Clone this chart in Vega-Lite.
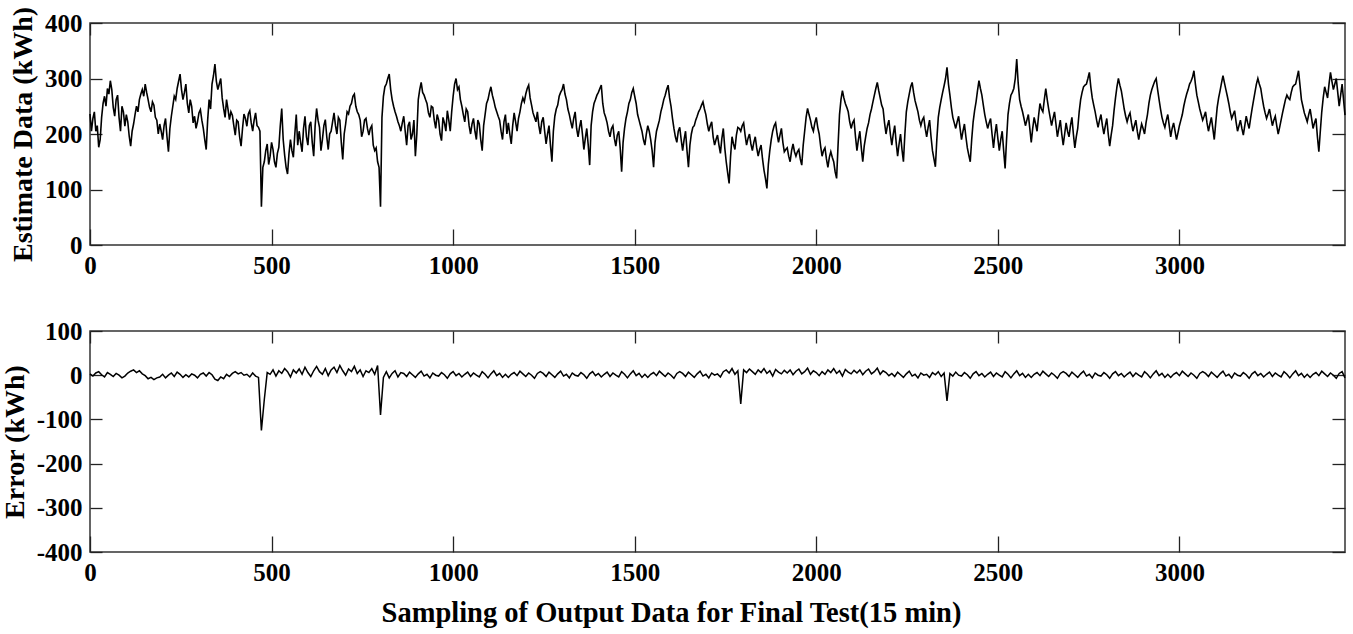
{
"$schema": "https://vega.github.io/schema/vega-lite/v6.json",
"background": "white",
"padding": {"left": 0, "top": 5, "right": 7, "bottom": 5},
"spacing": 39,
"config": {
  "font": "Liberation Serif",
  "view": {"stroke": "#333333", "strokeWidth": 1.5},
  "axis": {"grid": false, "domain": false, "labelFont": "Liberation Serif", "labelFontWeight": "bold", "labelFontSize": 25, "labelColor": "black", "titleFont": "Liberation Serif", "titleFontWeight": "bold", "titleFontSize": 28, "titleColor": "black", "tickColor": "#222222", "tickWidth": 1.3, "labelOverlap": false, "labelFlush": false, "labelExpr": "datum.value"},
  "axisBottom": {"tickSize": -16, "labelPadding": 24},
  "axisLeft": {"tickSize": -12, "labelPadding": 20, "titlePadding": 7},
  "axisTop": {"tickSize": -12},
  "axisRight": {"tickSize": -13}
},
"data": {"values": [
{"t":0,"est":236,"err":3},{"t":8,"est":228,"err":-2},{"t":16,"est":205,"err":5},{"t":24,"est":176,"err":8},{"t":32,"est":230,"err":1},{"t":40,"est":268,"err":-4},{"t":48,"est":282,"err":6},{"t":56,"est":296,"err":2},{"t":64,"est":248,"err":-3},{"t":72,"est":262,"err":4},{"t":80,"est":230,"err":0},{"t":88,"est":250,"err":-6},
{"t":96,"est":214,"err":-2},{"t":104,"est":222,"err":5},{"t":112,"est":178,"err":9},{"t":120,"est":218,"err":12},{"t":128,"est":250,"err":6},{"t":136,"est":262,"err":10},{"t":144,"est":280,"err":3},{"t":152,"est":290,"err":-1},{"t":160,"est":262,"err":-8},{"t":168,"est":240,"err":-5},{"t":176,"est":252,"err":-10},{"t":184,"est":225,"err":-6},
{"t":192,"est":218,"err":-4},{"t":200,"est":190,"err":2},{"t":208,"est":228,"err":-6},{"t":216,"est":168,"err":0},{"t":224,"est":232,"err":5},{"t":232,"est":268,"err":-3},{"t":240,"est":282,"err":7},{"t":248,"est":308,"err":2},{"t":256,"est":262,"err":-5},{"t":264,"est":290,"err":1},{"t":272,"est":238,"err":-4},{"t":280,"est":250,"err":3},
{"t":288,"est":232,"err":0},{"t":296,"est":222,"err":-6},{"t":304,"est":244,"err":2},{"t":312,"est":210,"err":5},{"t":320,"est":172,"err":-2},{"t":328,"est":262,"err":6},{"t":336,"est":290,"err":1},{"t":344,"est":326,"err":-9},{"t":352,"est":280,"err":-12},{"t":360,"est":300,"err":-4},{"t":368,"est":246,"err":-8},{"t":376,"est":262,"err":2},
{"t":384,"est":226,"err":-3},{"t":392,"est":234,"err":4},{"t":400,"est":198,"err":8},{"t":408,"est":222,"err":3},{"t":416,"est":178,"err":6},{"t":424,"est":236,"err":0},{"t":432,"est":214,"err":2},{"t":440,"est":242,"err":-4},{"t":448,"est":205,"err":5},{"t":456,"est":238,"err":-2},{"t":464,"est":212,"err":-5},{"t":472,"est":69,"err":-125},
{"t":480,"est":150,"err":-55},{"t":488,"est":182,"err":6},{"t":496,"est":160,"err":2},{"t":504,"est":172,"err":12},{"t":512,"est":140,"err":-2},{"t":520,"est":176,"err":10},{"t":528,"est":246,"err":4},{"t":536,"est":162,"err":15},{"t":544,"est":128,"err":8},{"t":552,"est":190,"err":-4},{"t":560,"est":158,"err":12},{"t":568,"est":235,"err":5},
{"t":576,"est":205,"err":14},{"t":584,"est":168,"err":2},{"t":592,"est":232,"err":18},{"t":600,"est":180,"err":6},{"t":608,"est":222,"err":-3},{"t":616,"est":160,"err":10},{"t":624,"est":246,"err":20},{"t":632,"est":212,"err":8},{"t":640,"est":190,"err":2},{"t":648,"est":226,"err":15},{"t":656,"est":172,"err":-1},{"t":664,"est":205,"err":12},
{"t":672,"est":238,"err":18},{"t":680,"est":200,"err":6},{"t":688,"est":225,"err":22},{"t":696,"est":154,"err":10},{"t":704,"est":218,"err":0},{"t":712,"est":236,"err":14},{"t":720,"est":255,"err":8},{"t":728,"est":272,"err":20},{"t":736,"est":240,"err":4},{"t":744,"est":225,"err":12},{"t":752,"est":205,"err":-3},{"t":760,"est":228,"err":10},
{"t":768,"est":198,"err":6},{"t":776,"est":215,"err":15},{"t":784,"est":170,"err":2},{"t":792,"est":150,"err":22},{"t":800,"est":69,"err":-90},{"t":808,"est":268,"err":-5},{"t":816,"est":290,"err":8},{"t":824,"est":308,"err":-6},{"t":832,"est":262,"err":4},{"t":840,"est":240,"err":10},{"t":848,"est":222,"err":-4},{"t":856,"est":205,"err":6},
{"t":864,"est":232,"err":4},{"t":872,"est":180,"err":-3},{"t":880,"est":222,"err":7},{"t":888,"est":200,"err":1},{"t":896,"est":160,"err":-5},{"t":904,"est":262,"err":3},{"t":912,"est":293,"err":9},{"t":920,"est":270,"err":-2},{"t":928,"est":255,"err":2},{"t":936,"est":230,"err":-6},{"t":944,"est":248,"err":5},{"t":952,"est":210,"err":0},
{"t":960,"est":225,"err":-2},{"t":968,"est":188,"err":6},{"t":976,"est":220,"err":1},{"t":984,"est":242,"err":-7},{"t":992,"est":205,"err":3},{"t":1000,"est":268,"err":8},{"t":1008,"est":300,"err":-1},{"t":1016,"est":285,"err":4},{"t":1024,"est":250,"err":-4},{"t":1032,"est":222,"err":2},{"t":1040,"est":240,"err":7},{"t":1048,"est":200,"err":-3},
{"t":1056,"est":228,"err":5},{"t":1064,"est":190,"err":0},{"t":1072,"est":218,"err":-4},{"t":1080,"est":170,"err":8},{"t":1088,"est":235,"err":2},{"t":1096,"est":262,"err":-6},{"t":1104,"est":285,"err":3},{"t":1112,"est":260,"err":10},{"t":1120,"est":240,"err":-1},{"t":1128,"est":225,"err":4},{"t":1136,"est":190,"err":-5},{"t":1144,"est":235,"err":2},
{"t":1152,"est":220,"err":-5},{"t":1160,"est":182,"err":2},{"t":1168,"est":238,"err":6},{"t":1176,"est":205,"err":-1},{"t":1184,"est":240,"err":9},{"t":1192,"est":265,"err":3},{"t":1200,"est":272,"err":-3},{"t":1208,"est":288,"err":5},{"t":1216,"est":252,"err":0},{"t":1224,"est":230,"err":-7},{"t":1232,"est":240,"err":4},{"t":1240,"est":200,"err":8},
{"t":1248,"est":230,"err":4},{"t":1256,"est":182,"err":-3},{"t":1264,"est":215,"err":7},{"t":1272,"est":150,"err":1},{"t":1280,"est":232,"err":-5},{"t":1288,"est":252,"err":3},{"t":1296,"est":275,"err":9},{"t":1304,"est":290,"err":-2},{"t":1312,"est":262,"err":2},{"t":1320,"est":235,"err":-6},{"t":1328,"est":210,"err":5},{"t":1336,"est":240,"err":0},
{"t":1344,"est":195,"err":-2},{"t":1352,"est":225,"err":6},{"t":1360,"est":172,"err":1},{"t":1368,"est":210,"err":-7},{"t":1376,"est":144,"err":3},{"t":1384,"est":240,"err":8},{"t":1392,"est":262,"err":-1},{"t":1400,"est":275,"err":4},{"t":1408,"est":288,"err":-4},{"t":1416,"est":238,"err":2},{"t":1424,"est":220,"err":7},{"t":1432,"est":195,"err":-3},
{"t":1440,"est":215,"err":5},{"t":1448,"est":178,"err":0},{"t":1456,"est":205,"err":-4},{"t":1464,"est":132,"err":8},{"t":1472,"est":210,"err":2},{"t":1480,"est":240,"err":-6},{"t":1488,"est":262,"err":3},{"t":1496,"est":282,"err":10},{"t":1504,"est":255,"err":-1},{"t":1512,"est":225,"err":4},{"t":1520,"est":205,"err":-5},{"t":1528,"est":180,"err":2},
{"t":1536,"est":215,"err":-5},{"t":1544,"est":190,"err":2},{"t":1552,"est":140,"err":6},{"t":1560,"est":205,"err":-1},{"t":1568,"est":225,"err":9},{"t":1576,"est":250,"err":3},{"t":1584,"est":270,"err":-3},{"t":1592,"est":288,"err":5},{"t":1600,"est":250,"err":0},{"t":1608,"est":210,"err":-7},{"t":1616,"est":185,"err":4},{"t":1624,"est":212,"err":8},
{"t":1632,"est":170,"err":4},{"t":1640,"est":205,"err":-3},{"t":1648,"est":140,"err":7},{"t":1656,"est":200,"err":1},{"t":1664,"est":215,"err":-5},{"t":1672,"est":232,"err":3},{"t":1680,"est":245,"err":9},{"t":1688,"est":258,"err":-2},{"t":1696,"est":235,"err":2},{"t":1704,"est":205,"err":-6},{"t":1712,"est":222,"err":5},{"t":1720,"est":180,"err":0},
{"t":1728,"est":198,"err":3},{"t":1736,"est":165,"err":-4},{"t":1744,"est":210,"err":8},{"t":1752,"est":150,"err":12},{"t":1760,"est":111,"err":5},{"t":1768,"est":195,"err":15},{"t":1776,"est":172,"err":2},{"t":1784,"est":212,"err":10},{"t":1792,"est":205,"err":-65},{"t":1800,"est":220,"err":12},{"t":1808,"est":180,"err":6},{"t":1816,"est":200,"err":14},
{"t":1824,"est":170,"err":8},{"t":1832,"est":195,"err":2},{"t":1840,"est":160,"err":12},{"t":1848,"est":180,"err":6},{"t":1856,"est":135,"err":15},{"t":1864,"est":102,"err":4},{"t":1872,"est":170,"err":10},{"t":1880,"est":205,"err":-2},{"t":1888,"est":220,"err":13},{"t":1896,"est":185,"err":7},{"t":1904,"est":210,"err":3},{"t":1912,"est":168,"err":11},
{"t":1920,"est":175,"err":5},{"t":1928,"est":150,"err":12},{"t":1936,"est":182,"err":1},{"t":1944,"est":160,"err":9},{"t":1952,"est":172,"err":14},{"t":1960,"est":144,"err":3},{"t":1968,"est":205,"err":8},{"t":1976,"est":246,"err":16},{"t":1984,"est":225,"err":2},{"t":1992,"est":205,"err":10},{"t":2000,"est":230,"err":6},{"t":2008,"est":200,"err":-1},
{"t":2016,"est":160,"err":8},{"t":2024,"est":175,"err":2},{"t":2032,"est":140,"err":12},{"t":2040,"est":168,"err":6},{"t":2048,"est":150,"err":15},{"t":2056,"est":120,"err":4},{"t":2064,"est":235,"err":10},{"t":2072,"est":278,"err":-2},{"t":2080,"est":255,"err":13},{"t":2088,"est":240,"err":7},{"t":2096,"est":210,"err":3},{"t":2104,"est":225,"err":11},
{"t":2112,"est":170,"err":5},{"t":2120,"est":205,"err":12},{"t":2128,"est":150,"err":1},{"t":2136,"est":195,"err":9},{"t":2144,"est":220,"err":14},{"t":2152,"est":245,"err":3},{"t":2160,"est":270,"err":8},{"t":2168,"est":293,"err":16},{"t":2176,"est":265,"err":2},{"t":2184,"est":245,"err":10},{"t":2192,"est":200,"err":6},{"t":2200,"est":225,"err":-1},
{"t":2208,"est":180,"err":4},{"t":2216,"est":215,"err":-3},{"t":2224,"est":160,"err":7},{"t":2232,"est":200,"err":1},{"t":2240,"est":150,"err":-5},{"t":2248,"est":240,"err":3},{"t":2256,"est":272,"err":9},{"t":2264,"est":293,"err":-2},{"t":2272,"est":260,"err":2},{"t":2280,"est":240,"err":-6},{"t":2288,"est":215,"err":5},{"t":2296,"est":230,"err":0},
{"t":2304,"est":195,"err":2},{"t":2312,"est":225,"err":-5},{"t":2320,"est":170,"err":6},{"t":2328,"est":141,"err":1},{"t":2336,"est":230,"err":8},{"t":2344,"est":262,"err":-3},{"t":2352,"est":287,"err":5},{"t":2360,"est":320,"err":-58},{"t":2368,"est":270,"err":4},{"t":2376,"est":230,"err":-2},{"t":2384,"est":210,"err":7},{"t":2392,"est":232,"err":0},
{"t":2400,"est":190,"err":-2},{"t":2408,"est":218,"err":6},{"t":2416,"est":175,"err":1},{"t":2424,"est":150,"err":-7},{"t":2432,"est":222,"err":3},{"t":2440,"est":258,"err":8},{"t":2448,"est":296,"err":-1},{"t":2456,"est":270,"err":4},{"t":2464,"est":235,"err":-4},{"t":2472,"est":210,"err":2},{"t":2480,"est":228,"err":7},{"t":2488,"est":175,"err":-3},
{"t":2496,"est":218,"err":5},{"t":2504,"est":170,"err":0},{"t":2512,"est":205,"err":-4},{"t":2520,"est":138,"err":8},{"t":2528,"est":235,"err":2},{"t":2536,"est":270,"err":-6},{"t":2544,"est":282,"err":3},{"t":2552,"est":335,"err":10},{"t":2560,"est":262,"err":-1},{"t":2568,"est":240,"err":4},{"t":2576,"est":215,"err":-5},{"t":2584,"est":235,"err":2},
{"t":2592,"est":185,"err":-5},{"t":2600,"est":230,"err":2},{"t":2608,"est":205,"err":6},{"t":2616,"est":255,"err":-1},{"t":2624,"est":240,"err":9},{"t":2632,"est":282,"err":3},{"t":2640,"est":245,"err":-3},{"t":2648,"est":215,"err":5},{"t":2656,"est":240,"err":0},{"t":2664,"est":195,"err":-7},{"t":2672,"est":225,"err":4},{"t":2680,"est":180,"err":8},
{"t":2688,"est":220,"err":4},{"t":2696,"est":195,"err":-3},{"t":2704,"est":230,"err":7},{"t":2712,"est":175,"err":1},{"t":2720,"est":210,"err":-5},{"t":2728,"est":262,"err":3},{"t":2736,"est":285,"err":9},{"t":2744,"est":290,"err":-2},{"t":2752,"est":311,"err":2},{"t":2760,"est":265,"err":-6},{"t":2768,"est":240,"err":5},{"t":2776,"est":212,"err":0},
{"t":2784,"est":235,"err":-2},{"t":2792,"est":200,"err":6},{"t":2800,"est":228,"err":1},{"t":2808,"est":178,"err":-7},{"t":2816,"est":215,"err":3},{"t":2824,"est":265,"err":8},{"t":2832,"est":300,"err":-1},{"t":2840,"est":278,"err":4},{"t":2848,"est":245,"err":-4},{"t":2856,"est":222,"err":2},{"t":2864,"est":238,"err":7},{"t":2872,"est":205,"err":-3},
{"t":2880,"est":225,"err":5},{"t":2888,"est":190,"err":0},{"t":2896,"est":218,"err":-4},{"t":2904,"est":200,"err":8},{"t":2912,"est":235,"err":2},{"t":2920,"est":270,"err":-6},{"t":2928,"est":288,"err":3},{"t":2936,"est":300,"err":10},{"t":2944,"est":262,"err":-1},{"t":2952,"est":230,"err":4},{"t":2960,"est":212,"err":-5},{"t":2968,"est":235,"err":2},
{"t":2976,"est":195,"err":-5},{"t":2984,"est":220,"err":2},{"t":2992,"est":190,"err":6},{"t":3000,"est":215,"err":-1},{"t":3008,"est":235,"err":9},{"t":3016,"est":262,"err":3},{"t":3024,"est":280,"err":-3},{"t":3032,"est":295,"err":5},{"t":3040,"est":314,"err":0},{"t":3048,"est":270,"err":-7},{"t":3056,"est":245,"err":4},{"t":3064,"est":225,"err":8},
{"t":3072,"est":240,"err":4},{"t":3080,"est":205,"err":-3},{"t":3088,"est":230,"err":7},{"t":3096,"est":190,"err":1},{"t":3104,"est":248,"err":-5},{"t":3112,"est":278,"err":3},{"t":3120,"est":305,"err":9},{"t":3128,"est":280,"err":-2},{"t":3136,"est":255,"err":2},{"t":3144,"est":228,"err":-6},{"t":3152,"est":242,"err":5},{"t":3160,"est":205,"err":0},
{"t":3168,"est":225,"err":-2},{"t":3176,"est":198,"err":6},{"t":3184,"est":232,"err":1},{"t":3192,"est":210,"err":-7},{"t":3200,"est":245,"err":3},{"t":3208,"est":275,"err":8},{"t":3216,"est":300,"err":-1},{"t":3224,"est":282,"err":4},{"t":3232,"est":250,"err":-4},{"t":3240,"est":228,"err":2},{"t":3248,"est":245,"err":7},{"t":3256,"est":215,"err":-3},
{"t":3264,"est":232,"err":5},{"t":3272,"est":200,"err":0},{"t":3280,"est":225,"err":-4},{"t":3288,"est":250,"err":8},{"t":3296,"est":270,"err":2},{"t":3304,"est":262,"err":-6},{"t":3312,"est":285,"err":3},{"t":3320,"est":290,"err":10},{"t":3328,"est":314,"err":-1},{"t":3336,"est":262,"err":4},{"t":3344,"est":238,"err":-5},{"t":3352,"est":222,"err":2},
{"t":3360,"est":245,"err":-5},{"t":3368,"est":210,"err":2},{"t":3376,"est":228,"err":6},{"t":3384,"est":168,"err":-1},{"t":3392,"est":240,"err":9},{"t":3400,"est":285,"err":3},{"t":3408,"est":265,"err":-3},{"t":3416,"est":311,"err":5},{"t":3424,"est":280,"err":0},{"t":3432,"est":300,"err":-7},{"t":3440,"est":250,"err":4},{"t":3448,"est":290,"err":8},{"t":3456,"est":234,"err":-6},
{"t":4,"est":205},{"t":12,"est":240},{"t":20,"est":215},{"t":28,"est":190},{"t":36,"est":255},{"t":44,"est":250},{"t":52,"est":272},{"t":60,"est":280},{"t":68,"est":232},{"t":76,"est":270},{"t":84,"est":205},{"t":92,"est":240},
{"t":100,"est":235},{"t":108,"est":196},{"t":116,"est":205},{"t":124,"est":235},{"t":132,"est":240},{"t":140,"est":272},{"t":148,"est":268},{"t":156,"est":275},{"t":164,"est":248},{"t":172,"est":258},{"t":180,"est":230},{"t":188,"est":200},
{"t":196,"est":205},{"t":204,"est":215},{"t":212,"est":195},{"t":220,"est":210},{"t":228,"est":250},{"t":236,"est":262},{"t":244,"est":295},{"t":252,"est":280},{"t":260,"est":275},{"t":268,"est":255},{"t":276,"est":262},{"t":284,"est":220},
{"t":292,"est":210},{"t":300,"est":238},{"t":308,"est":225},{"t":316,"est":190},{"t":324,"est":225},{"t":332,"est":245},{"t":340,"est":305},{"t":348,"est":295},{"t":356,"est":290},{"t":364,"est":265},{"t":372,"est":230},{"t":380,"est":245},
{"t":388,"est":240},{"t":396,"est":215},{"t":404,"est":225},{"t":412,"est":195},{"t":420,"est":210},{"t":428,"est":228},{"t":436,"est":236},{"t":444,"est":220},{"t":452,"est":225},{"t":460,"est":215},{"t":468,"est":205},{"t":476,"est":140},
{"t":484,"est":170},{"t":492,"est":145},{"t":500,"est":185},{"t":508,"est":150},{"t":516,"est":165},{"t":524,"est":215},{"t":532,"est":190},{"t":540,"est":140},{"t":548,"est":165},{"t":556,"est":170},{"t":564,"est":200},{"t":572,"est":180},
{"t":580,"est":185},{"t":588,"est":210},{"t":596,"est":195},{"t":604,"est":215},{"t":612,"est":185},{"t":620,"est":215},{"t":628,"est":225},{"t":636,"est":170},{"t":644,"est":215},{"t":652,"est":195},{"t":660,"est":200},{"t":668,"est":222},
{"t":676,"est":215},{"t":684,"est":230},{"t":692,"est":185},{"t":700,"est":200},{"t":708,"est":240},{"t":716,"est":250},{"t":724,"est":268},{"t":732,"est":250},{"t":740,"est":235},{"t":748,"est":195},{"t":756,"est":225},{"t":764,"est":210},
{"t":772,"est":210},{"t":780,"est":180},{"t":788,"est":175},{"t":796,"est":140},{"t":804,"est":230},{"t":812,"est":285},{"t":820,"est":300},{"t":828,"est":280},{"t":836,"est":250},{"t":844,"est":232},{"t":852,"est":215},{"t":860,"est":220},
{"t":868,"est":205},{"t":876,"est":215},{"t":884,"est":190},{"t":892,"est":225},{"t":900,"est":200},{"t":908,"est":280},{"t":916,"est":275},{"t":924,"est":262},{"t":932,"est":238},{"t":940,"est":250},{"t":948,"est":225},{"t":956,"est":235},
{"t":964,"est":200},{"t":972,"est":230},{"t":980,"est":205},{"t":988,"est":225},{"t":996,"est":240},{"t":1004,"est":290},{"t":1012,"est":280},{"t":1020,"est":262},{"t":1028,"est":235},{"t":1036,"est":245},{"t":1044,"est":215},{"t":1052,"est":218},
{"t":1060,"est":205},{"t":1068,"est":225},{"t":1076,"est":190},{"t":1084,"est":215},{"t":1092,"est":255},{"t":1100,"est":275},{"t":1108,"est":270},{"t":1116,"est":248},{"t":1124,"est":232},{"t":1132,"est":205},{"t":1140,"est":222},{"t":1148,"est":200},
{"t":1156,"est":200},{"t":1164,"est":215},{"t":1172,"est":222},{"t":1180,"est":228},{"t":1188,"est":255},{"t":1196,"est":258},{"t":1204,"est":282},{"t":1212,"est":265},{"t":1220,"est":238},{"t":1228,"est":222},{"t":1236,"est":215},{"t":1244,"est":222},
{"t":1252,"est":205},{"t":1260,"est":200},{"t":1268,"est":180},{"t":1276,"est":205},{"t":1284,"est":245},{"t":1292,"est":268},{"t":1300,"est":280},{"t":1308,"est":272},{"t":1316,"est":245},{"t":1324,"est":222},{"t":1332,"est":228},{"t":1340,"est":210},
{"t":1348,"est":212},{"t":1356,"est":200},{"t":1364,"est":192},{"t":1372,"est":180},{"t":1380,"est":215},{"t":1388,"est":255},{"t":1396,"est":270},{"t":1404,"est":282},{"t":1412,"est":255},{"t":1420,"est":230},{"t":1428,"est":205},{"t":1436,"est":210},
{"t":1444,"est":192},{"t":1452,"est":198},{"t":1460,"est":175},{"t":1468,"est":185},{"t":1476,"est":228},{"t":1484,"est":255},{"t":1492,"est":275},{"t":1500,"est":268},{"t":1508,"est":235},{"t":1516,"est":215},{"t":1524,"est":190},{"t":1532,"est":200},
{"t":1540,"est":205},{"t":1548,"est":170},{"t":1556,"est":185},{"t":1564,"est":215},{"t":1572,"est":240},{"t":1580,"est":262},{"t":1588,"est":280},{"t":1596,"est":265},{"t":1604,"est":228},{"t":1612,"est":195},{"t":1620,"est":205},{"t":1628,"est":190},
{"t":1636,"est":190},{"t":1644,"est":170},{"t":1652,"est":180},{"t":1660,"est":212},{"t":1668,"est":225},{"t":1676,"est":240},{"t":1684,"est":252},{"t":1692,"est":245},{"t":1700,"est":218},{"t":1708,"est":215},{"t":1716,"est":195},{"t":1724,"est":190},
{"t":1732,"est":180},{"t":1740,"est":192},{"t":1748,"est":175},{"t":1756,"est":130},{"t":1764,"est":160},{"t":1772,"est":182},{"t":1780,"est":198},{"t":1788,"est":210},{"t":1796,"est":215},{"t":1804,"est":198},{"t":1812,"est":192},{"t":1820,"est":182},
{"t":1828,"est":185},{"t":1836,"est":175},{"t":1844,"est":172},{"t":1852,"est":155},{"t":1860,"est":120},{"t":1868,"est":145},{"t":1876,"est":190},{"t":1884,"est":215},{"t":1892,"est":200},{"t":1900,"est":198},{"t":1908,"est":185},{"t":1916,"est":172},
{"t":1924,"est":160},{"t":1932,"est":170},{"t":1940,"est":168},{"t":1948,"est":168},{"t":1956,"est":155},{"t":1964,"est":180},{"t":1972,"est":230},{"t":1980,"est":235},{"t":1988,"est":212},{"t":1996,"est":220},{"t":2004,"est":212},{"t":2012,"est":178},
{"t":2020,"est":170},{"t":2028,"est":155},{"t":2036,"est":158},{"t":2044,"est":158},{"t":2052,"est":132},{"t":2060,"est":180},{"t":2068,"est":262},{"t":2076,"est":265},{"t":2084,"est":248},{"t":2092,"est":222},{"t":2100,"est":220},{"t":2108,"est":195},
{"t":2116,"est":190},{"t":2124,"est":175},{"t":2132,"est":178},{"t":2140,"est":210},{"t":2148,"est":235},{"t":2156,"est":258},{"t":2164,"est":282},{"t":2172,"est":278},{"t":2180,"est":252},{"t":2188,"est":220},{"t":2196,"est":215},{"t":2204,"est":200},
{"t":2212,"est":200},{"t":2220,"est":185},{"t":2228,"est":182},{"t":2236,"est":172},{"t":2244,"est":200},{"t":2252,"est":258},{"t":2260,"est":285},{"t":2268,"est":275},{"t":2276,"est":250},{"t":2284,"est":225},{"t":2292,"est":225},{"t":2300,"est":210},
{"t":2308,"est":212},{"t":2316,"est":195},{"t":2324,"est":155},{"t":2332,"est":190},{"t":2340,"est":248},{"t":2348,"est":275},{"t":2356,"est":300},{"t":2364,"est":290},{"t":2372,"est":248},{"t":2380,"est":220},{"t":2388,"est":222},{"t":2396,"est":210},
{"t":2404,"est":205},{"t":2412,"est":195},{"t":2420,"est":162},{"t":2428,"est":190},{"t":2436,"est":242},{"t":2444,"est":278},{"t":2452,"est":282},{"t":2460,"est":252},{"t":2468,"est":222},{"t":2476,"est":220},{"t":2484,"est":200},{"t":2492,"est":200},
{"t":2500,"est":192},{"t":2508,"est":190},{"t":2516,"est":170},{"t":2524,"est":190},{"t":2532,"est":255},{"t":2540,"est":275},{"t":2548,"est":300},{"t":2556,"est":292},{"t":2564,"est":250},{"t":2572,"est":228},{"t":2580,"est":225},{"t":2588,"est":210},
{"t":2596,"est":210},{"t":2604,"est":218},{"t":2612,"est":232},{"t":2620,"est":245},{"t":2628,"est":262},{"t":2636,"est":262},{"t":2644,"est":230},{"t":2652,"est":228},{"t":2660,"est":218},{"t":2668,"est":210},{"t":2676,"est":200},{"t":2684,"est":200},
{"t":2692,"est":205},{"t":2700,"est":215},{"t":2708,"est":200},{"t":2716,"est":195},{"t":2724,"est":240},{"t":2732,"est":275},{"t":2740,"est":288},{"t":2748,"est":300},{"t":2756,"est":285},{"t":2764,"est":252},{"t":2772,"est":225},{"t":2780,"est":225},
{"t":2788,"est":215},{"t":2796,"est":215},{"t":2804,"est":200},{"t":2812,"est":198},{"t":2820,"est":242},{"t":2828,"est":285},{"t":2836,"est":288},{"t":2844,"est":262},{"t":2852,"est":232},{"t":2860,"est":232},{"t":2868,"est":220},{"t":2876,"est":215},
{"t":2884,"est":205},{"t":2892,"est":205},{"t":2900,"est":210},{"t":2908,"est":220},{"t":2916,"est":255},{"t":2924,"est":280},{"t":2932,"est":295},{"t":2940,"est":280},{"t":2948,"est":245},{"t":2956,"est":220},{"t":2964,"est":225},{"t":2972,"est":215},
{"t":2980,"est":210},{"t":2988,"est":205},{"t":2996,"est":202},{"t":3004,"est":225},{"t":3012,"est":250},{"t":3020,"est":272},{"t":3028,"est":290},{"t":3036,"est":302},{"t":3044,"est":290},{"t":3052,"est":258},{"t":3060,"est":235},{"t":3068,"est":232},
{"t":3076,"est":220},{"t":3084,"est":218},{"t":3092,"est":210},{"t":3100,"est":220},{"t":3108,"est":265},{"t":3116,"est":292},{"t":3124,"est":292},{"t":3132,"est":268},{"t":3140,"est":240},{"t":3148,"est":235},{"t":3156,"est":222},{"t":3164,"est":215},
{"t":3172,"est":210},{"t":3180,"est":215},{"t":3188,"est":220},{"t":3196,"est":228},{"t":3204,"est":260},{"t":3212,"est":290},{"t":3220,"est":290},{"t":3228,"est":265},{"t":3236,"est":238},{"t":3244,"est":236},{"t":3252,"est":230},{"t":3260,"est":225},
{"t":3268,"est":215},{"t":3276,"est":212},{"t":3284,"est":238},{"t":3292,"est":262},{"t":3300,"est":265},{"t":3308,"est":275},{"t":3316,"est":288},{"t":3324,"est":302},{"t":3332,"est":288},{"t":3340,"est":250},{"t":3348,"est":230},{"t":3356,"est":235},
{"t":3364,"est":228},{"t":3372,"est":220},{"t":3380,"est":195},{"t":3388,"est":205},{"t":3396,"est":265},{"t":3404,"est":275},{"t":3412,"est":290},{"t":3420,"est":295},{"t":3428,"est":290},{"t":3436,"est":275},{"t":3444,"est":270},{"t":3452,"est":262}
]},
"vconcat": [
  {
    "width": 1255, "height": 222,
    "layer": [
      {"mark": {"type": "line", "color": "black", "strokeWidth": 1.6},
       "encoding": {
         "x": {"field": "t", "type": "quantitative", "scale": {"domain": [0, 3456], "nice": false, "zero": false},
               "axis": {"orient": "bottom", "title": null, "values": [0, 500, 1000, 1500, 2000, 2500, 3000]}},
         "y": {"field": "est", "type": "quantitative", "scale": {"domain": [0, 400], "nice": false},
               "axis": {"orient": "left", "title": "Estimate Data (kWh)", "values": [0, 100, 200, 300, 400]}}
       }},
      {"mark": {"type": "line", "strokeOpacity": 0},
       "encoding": {
         "x": {"field": "t", "type": "quantitative", "axis": {"orient": "top", "labels": false, "title": null, "values": [0, 500, 1000, 1500, 2000, 2500, 3000]}},
         "y": {"field": "est", "type": "quantitative", "axis": {"orient": "right", "labels": false, "title": null, "values": [0, 100, 200, 300, 400]}}
       }}
    ],
    "resolve": {"axis": {"x": "independent", "y": "independent"}}
  },
  {
    "width": 1255, "height": 221,
    "transform": [{"filter": "isValid(datum.err)"}],
    "layer": [
      {"mark": {"type": "line", "color": "black", "strokeWidth": 1.5},
       "encoding": {
         "x": {"field": "t", "type": "quantitative", "scale": {"domain": [0, 3456], "nice": false, "zero": false},
               "axis": {"orient": "bottom", "title": "Sampling of Output Data for Final Test(15 min)", "titleFontSize": 28.5, "titleX": 581, "titleY": 69, "titleAlign": "center", "titleBaseline": "alphabetic", "values": [0, 500, 1000, 1500, 2000, 2500, 3000]}},
         "y": {"field": "err", "type": "quantitative", "scale": {"domain": [-400, 100], "nice": false, "zero": false},
               "axis": {"orient": "left", "title": "Error (kWh)", "values": [-400, -300, -200, -100, 0, 100]}}
       }},
      {"mark": {"type": "line", "strokeOpacity": 0},
       "encoding": {
         "x": {"field": "t", "type": "quantitative", "axis": {"orient": "top", "labels": false, "title": null, "values": [0, 500, 1000, 1500, 2000, 2500, 3000]}},
         "y": {"field": "err", "type": "quantitative", "axis": {"orient": "right", "labels": false, "title": null, "values": [-400, -300, -200, -100, 0, 100]}}
       }}
    ],
    "resolve": {"axis": {"x": "independent", "y": "independent"}}
  }
]
}
